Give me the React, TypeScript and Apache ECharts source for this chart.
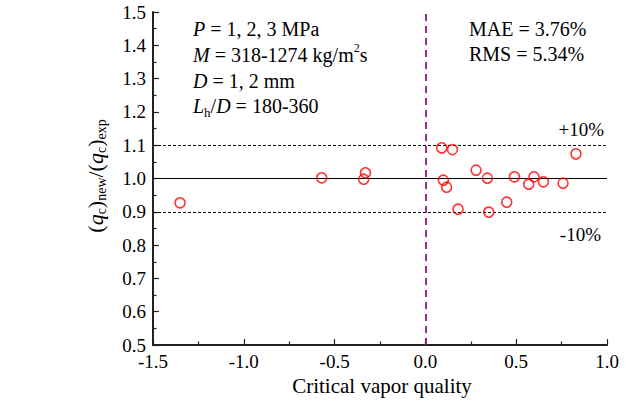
import React, { useEffect, useRef } from "react";
import * as echarts from "echarts";

const xQuality = [-1.351, -0.571, -0.34, -0.33, 0.09, 0.099, 0.117, 0.149, 0.18, 0.279, 0.341, 0.349, 0.448, 0.49, 0.569, 0.598, 0.65, 0.758, 0.829];
const ratioVals = [0.927, 1.002, 0.998, 1.017, 1.092, 0.995, 0.974, 1.087, 0.908, 1.025, 1.001, 0.899, 0.929, 1.005, 0.983, 1.005, 0.99, 0.986, 1.074];
const refLevels = [1.0];
const bandLevels = [1.1, 0.9];
const xDivider = [0];

const FONT = "'Liberation Serif', 'Times New Roman', serif";

export default function App() {
  const ref = useRef<HTMLDivElement>(null);
  useEffect(() => {
    document.body.style.margin = "0";
    const chart = echarts.init(ref.current!, undefined, { renderer: "svg" });
    const data = xQuality.map((x, i) => [x, ratioVals[i]]);
    const mainRich = (size: number) => ({
      n: { fontFamily: FONT, fontSize: size, lineHeight: 26, fill: "#000", verticalAlign: "middle" },
      i: { fontFamily: FONT, fontSize: size, fontStyle: "italic", lineHeight: 26, fill: "#000", verticalAlign: "middle" },
      s: { fontFamily: FONT, fontSize: Math.round(size * 0.65), lineHeight: 13, fill: "#000", verticalAlign: "bottom" },
      u: { fontFamily: FONT, fontSize: Math.round(size * 0.6), lineHeight: 11, fill: "#000", verticalAlign: "top" },
    });
    const txt = (x: number, y: number, text: string, align: string, size = 20, extra: any = {}) => ({
      type: "text",
      x,
      y,
      silent: true,
      ...extra,
      style: {
        text,
        fontFamily: FONT,
        fontSize: size,
        fill: "#000",
        align,
        verticalAlign: "middle",
        rich: mainRich(size),
      },
    });
    chart.setOption({
      animation: false,
      grid: { left: 153, top: 12, right: 26, bottom: 60 },
      xAxis: {
        type: "value",
        min: -1.5,
        max: 1.0,
        interval: 0.5,
        axisLine: { show: true, onZero: false, lineStyle: { color: "#222", width: 2 } },
        axisTick: { show: true, inside: true, length: 6, lineStyle: { color: "#222", width: 1.2 } },
        minorTick: { show: true, splitNumber: 2, length: 3.5, lineStyle: { color: "#222", width: 1.2 } },
        splitLine: { show: false },
        axisLabel: {
          fontFamily: FONT,
          fontSize: 19,
          color: "#000",
          margin: 7,
          formatter: (v: number) => v.toFixed(1),
        },
      },
      yAxis: {
        type: "value",
        min: 0.5,
        max: 1.5,
        interval: 0.1,
        axisLine: { show: true, onZero: false, lineStyle: { color: "#222", width: 2 } },
        axisTick: { show: true, inside: true, length: 6, lineStyle: { color: "#222", width: 1.2 } },
        minorTick: { show: true, splitNumber: 2, length: 3.5, lineStyle: { color: "#222", width: 1.2 } },
        splitLine: { show: false },
        axisLabel: {
          fontFamily: FONT,
          fontSize: 19,
          color: "#000",
          margin: 7,
          formatter: (v: number) => v.toFixed(1),
        },
      },
      series: [
        {
          type: "scatter",
          data,
          symbol: "circle",
          symbolSize: 10,
          itemStyle: { color: "rgba(0,0,0,0)", borderColor: "#ff0000", borderWidth: 1.6 },
          z: 5,
          markLine: {
            silent: true,
            symbol: "none",
            label: { show: false },
            data: [
              ...refLevels.map((v) => ({ yAxis: v, lineStyle: { color: "#000", width: 1, type: "solid" } })),
              ...bandLevels.map((v) => ({ yAxis: v, lineStyle: { color: "#000", width: 1, type: [3, 2] } })),
              ...xDivider.map((v) => ({ xAxis: v, lineStyle: { color: "#8B1A8B", width: 1.8, type: [7, 5] } })),
            ],
          },
        },
      ],
      graphic: [
        txt(193, 29, "{i|P}{n| = 1, 2, 3 MPa}", "left"),
        txt(193, 55, "{i|M}{n| = 318-1274 kg/m}{u|2}{n|s}", "left"),
        txt(193, 81, "{i|D}{n| = 1, 2 mm}", "left"),
        txt(193, 106, "{i|L}{s|h}{n|/}{i|D}{n| = 180-360}", "left"),
        txt(469, 29, "MAE = 3.76%", "left"),
        txt(469, 54, "RMS = 5.34%", "left"),
        txt(604, 129, "+10%", "right", 19),
        txt(601, 234, "-10%", "right", 19),
        txt(382, 386, "Critical vapor quality", "center", 21),
        txt(95, 176, "{n|(}{i|q}{s|c}{n|)}{s|new}{n|/(}{i|q}{s|c}{n|)}{s|exp}", "center", 22, {
          rotation: Math.PI / 2,
        }),
      ],
    });
    return () => chart.dispose();
  }, []);
  return <div ref={ref} style={{ width: 633, height: 405 }} />;
}
